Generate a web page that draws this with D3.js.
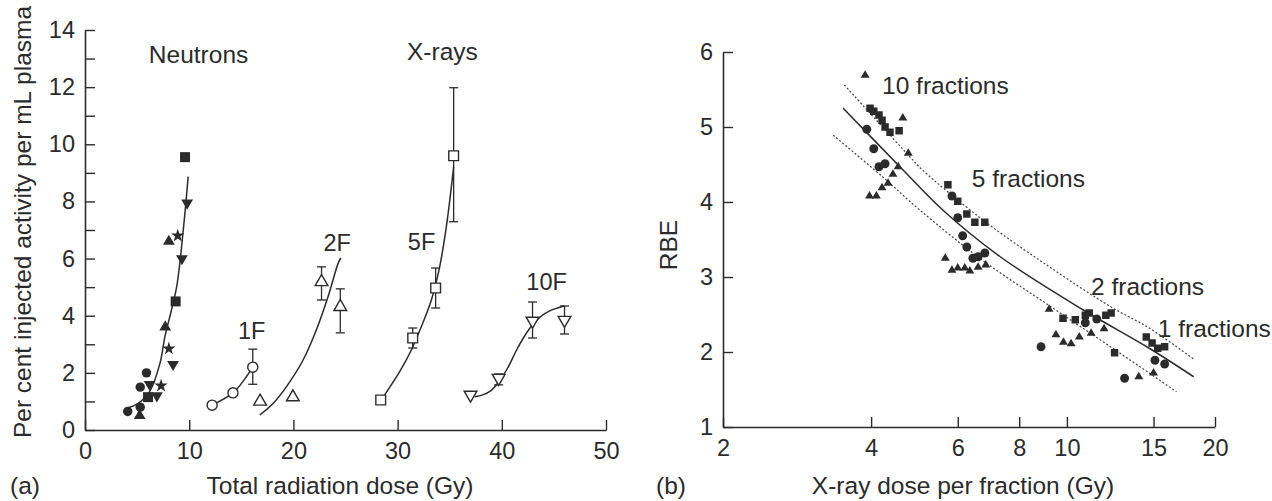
<!DOCTYPE html>
<html>
<head>
<meta charset="utf-8">
<script src="https://cdn.jsdelivr.net/npm/d3@7"></script>
<style>
  html, body { margin: 0; padding: 0; background: #fff; }
  svg text { font-family: "Liberation Sans", Arial, Helvetica, sans-serif; fill: #2b2b2b; }
</style>
</head>
<body>
<svg id="chart" width="1272" height="501"></svg>
<script>
// ---------- Panel (a): injected activity vs total dose ----------
const doseTicksA = [0, 10, 20, 30, 40, 50];
const activityTicks = d3.range(0, 15, 1);

// Neutron irradiation (filled symbols) [dose Gy, % activity]
const neutronSquares  = [[9.6, 9.55], [8.7, 4.5], [6.05, 1.15]];
const neutronDown     = [[9.8, 7.95], [9.3, 6.0], [8.45, 2.3], [6.2, 1.6], [6.9, 1.2]];
const neutronUp       = [[8.05, 6.6], [7.7, 3.6], [5.25, 0.5]];
const neutronStars    = [[8.9, 6.8], [8.05, 2.85], [7.3, 1.55]];
const neutronCircles  = [[5.9, 2.0], [5.3, 1.5], [4.1, 0.65], [5.3, 0.8]];
const neutronFit = [[4.0, 0.76], [5.1, 0.93], [6.2, 1.34], [7.2, 2.34], [7.67, 3.27], [8.3, 4.2],
                    [8.8, 5.02], [9.1, 5.84], [9.43, 7.0], [9.68, 7.94], [9.9, 8.87]];

// X-ray fractionation schedules: [dose, mean, lower, upper]
const xray1F  = [[12.2, 0.87, null, null], [14.2, 1.3, null, null], [16.1, 2.2, 1.6, 2.83]];
const xray2F  = [[16.8, 1.0, null, null], [19.95, 1.15, null, null], [22.7, 5.18, 4.55, 5.71], [24.5, 4.31, 3.4, 4.94]];
const xray5F  = [[28.38, 1.05, null, null], [31.45, 3.22, 2.87, 3.57], [33.65, 4.97, 4.27, 5.67], [35.38, 9.6, 7.29, 11.98]];
const xray10F = [[37.0, 1.23, null, null], [39.7, 1.82, 1.58, 1.96], [42.95, 3.82, 3.22, 4.48], [46.02, 3.85, 3.36, 4.34]];

const fit1F  = [[12.2, 0.87], [14.2, 1.3], [15.2, 1.72], [16.1, 2.2]];
const fit2F  = [[16.78, 0.53], [18.05, 0.93], [19.34, 1.52], [20.93, 2.45], [22.2, 3.5], [23.33, 4.67], [24.3, 5.84], [24.55, 6.02]];
const fit5F  = [[28.76, 1.23], [30.2, 2.04], [31.32, 2.8], [32.28, 3.62], [33.24, 4.55], [34.04, 5.72], [34.68, 7.12], [35.09, 8.29], [35.38, 9.22]];
const fit10F = [[37.39, 1.16], [38.16, 1.23], [38.93, 1.37], [39.7, 1.68], [40.56, 2.17], [41.42, 2.8], [42.19, 3.29],
                [42.95, 3.68], [43.8, 3.99], [44.6, 4.17], [45.35, 4.27], [46.02, 4.34]];

// ---------- Panel (b): RBE vs X-ray dose per fraction ----------
const dosePerFractionTicks = [2, 4, 6, 8, 10, 15, 20];
const rbeTicks = [1, 2, 3, 4, 5, 6];

const rbeSquares = [[3.98, 5.25], [4.05, 5.21], [4.15, 5.16], [4.21, 5.09], [4.27, 5.0], [4.37, 4.93], [4.56, 4.95],
                    [5.73, 4.23], [6.0, 4.01], [6.26, 3.84], [6.5, 3.73], [6.81, 3.73],
                    [9.82, 2.45], [10.4, 2.43], [10.9, 2.49], [11.1, 2.52], [12.0, 2.49], [12.3, 2.52], [12.5, 1.99],
                    [14.5, 2.2], [14.9, 2.12], [15.3, 2.05], [15.8, 2.07]];
const rbeCircles = [[3.92, 4.97], [4.05, 4.71], [4.15, 4.47], [4.27, 4.51],
                    [5.84, 4.08], [6.0, 3.79], [6.14, 3.55], [6.26, 3.4], [6.44, 3.25], [6.6, 3.27], [6.81, 3.32],
                    [8.86, 2.07], [10.9, 2.39], [11.5, 2.44],
                    [13.1, 1.65], [15.1, 1.89], [15.8, 1.84]];
const rbeTriangles = [[3.89, 5.69], [4.64, 5.12], [4.76, 4.65],
                      [4.54, 4.47], [4.43, 4.37], [4.33, 4.25], [4.21, 4.19], [4.1, 4.08], [3.97, 4.08],
                      [5.66, 3.25], [5.84, 3.09], [6.0, 3.12], [6.2, 3.12], [6.35, 3.08], [6.6, 3.13], [6.84, 3.16],
                      [9.2, 2.57], [9.5, 2.23], [9.84, 2.13], [10.2, 2.11], [10.6, 2.2], [11.2, 2.25], [11.9, 2.31],
                      [14.0, 1.67], [15.0, 1.72]];

const rbeFit   = [[3.51, 5.25], [4.64, 4.43], [5.6, 3.89], [7.32, 3.27], [10.8, 2.56], [14.7, 2.05], [18.1, 1.67]];
const rbeUpper = [[3.53, 5.56], [4.8, 4.6], [5.08, 4.43], [6.75, 3.76], [9.24, 3.13], [12.3, 2.6], [14.7, 2.32], [18.06, 1.91]];
const rbeLower = [[3.35, 4.89], [4.23, 4.33], [5.03, 3.89], [6.75, 3.22], [9.2, 2.62], [11.7, 2.16], [14.1, 1.8], [16.7, 1.47]];

const fractionLabels = ["10 fractions", "5 fractions", "2 fractions", "1 fractions"];

// ---------- drawing ----------
const svg = d3.select("#chart");
svg.append("rect").attr("width", 1272).attr("height", 501).attr("fill", "#fff");

const INK = "#2b2b2b";
const FONT = 23.5;
const TITLE = 24.5;
const BOTTOM_Y = 485;

function styleAxis(g) {
  g.selectAll("path.domain").attr("stroke", INK).attr("stroke-width", 1.6);
  g.selectAll(".tick line").attr("stroke", INK).attr("stroke-width", 1.4);
  g.selectAll(".tick text").attr("font-size", FONT).attr("fill", INK)
    .attr("font-family", '"Liberation Sans", Arial, sans-serif');
}

// Panel (a) scales
const xA = d3.scaleLinear().domain([0, 50]).range([85, 606]);
const yA = d3.scaleLinear().domain([0, 14]).range([430, 30]);

const gA = svg.append("g");
gA.append("g").attr("transform", `translate(0,${yA(0)})`)
  .call(d3.axisBottom(xA).tickValues(doseTicksA).tickSizeInner(-10).tickSizeOuter(0).tickPadding(12))
  .call(styleAxis);
gA.append("g").attr("transform", `translate(${xA(0)},0)`)
  .call(d3.axisLeft(yA).tickValues(activityTicks).tickSizeInner(-10).tickSizeOuter(0).tickPadding(10)
    .tickFormat(d => d % 2 === 0 ? d : ""))
  .call(styleAxis);

const lineA = d3.line().x(d => xA(d[0])).y(d => yA(d[1])).curve(d3.curveCatmullRom.alpha(0.5));
[neutronFit, fit1F, fit2F, fit5F, fit10F].forEach(pts => {
  gA.append("path").attr("d", lineA(pts)).attr("fill", "none").attr("stroke", INK).attr("stroke-width", 1.5);
});

// error bars
function errorBars(g, data, x, y) {
  data.filter(d => d[2] !== null).forEach(d => {
    const cx = x(d[0]);
    g.append("line").attr("x1", cx).attr("x2", cx).attr("y1", y(d[2])).attr("y2", y(d[3]))
      .attr("stroke", INK).attr("stroke-width", 1.3);
    [d[2], d[3]].forEach(v => {
      g.append("line").attr("x1", cx - 4.5).attr("x2", cx + 4.5).attr("y1", y(v)).attr("y2", y(v))
        .attr("stroke", INK).attr("stroke-width", 1.3);
    });
  });
}
[xray1F, xray2F, xray5F, xray10F].forEach(s => errorBars(gA, s, xA, yA));

function symbols(g, data, x, y, type, size, opts) {
  const o = Object.assign({ fill: INK, stroke: "none", sw: 0, rotate: 0 }, opts || {});
  g.selectAll(null).data(data).enter().append("path")
    .attr("d", d3.symbol().type(type).size(size)())
    .attr("transform", d => `translate(${x(d[0])},${y(d[1])}) rotate(${o.rotate})`)
    .attr("fill", o.fill).attr("stroke", o.stroke).attr("stroke-width", o.sw);
}

// neutron data (filled)
symbols(gA, neutronCircles, xA, yA, d3.symbolCircle, 70);
symbols(gA, neutronUp, xA, yA, d3.symbolTriangle, 60);
symbols(gA, neutronDown, xA, yA, d3.symbolTriangle, 60, { rotate: 180 });
symbols(gA, neutronStars, xA, yA, d3.symbolStar, 55);
symbols(gA, neutronSquares, xA, yA, d3.symbolSquare, 100);

// X-ray data (open)
const openStyle = { fill: "#fff", stroke: INK, sw: 1.4 };
symbols(gA, xray1F, xA, yA, d3.symbolCircle, 80, openStyle);
symbols(gA, xray2F, xA, yA, d3.symbolTriangle, 70, openStyle);
symbols(gA, xray5F, xA, yA, d3.symbolSquare, 95, openStyle);
symbols(gA, xray10F, xA, yA, d3.symbolTriangle, 70, Object.assign({ rotate: 180 }, openStyle));

function label(g, txt, x, y, anchor, size) {
  g.append("text").attr("x", x).attr("y", y).attr("dy", "0.35em")
    .attr("text-anchor", anchor || "middle").attr("font-size", size || FONT).text(txt);
}
label(gA, "Neutrons", xA(10.9), yA(13.13), "middle", TITLE);
label(gA, "X-rays", xA(34.3), yA(13.24), "middle", TITLE);
label(gA, "1F", xA(16.0), yA(3.47));
label(gA, "2F", xA(24.2), yA(6.55));
label(gA, "5F", xA(32.3), yA(6.58));
label(gA, "10F", xA(44.3), yA(5.18));

gA.append("text").attr("transform", `translate(22,222) rotate(-90)`)
  .attr("dy", "0.35em").attr("text-anchor", "middle").attr("font-size", TITLE)
  .text("Per cent injected activity per mL plasma");
label(gA, "Total radiation dose (Gy)", 340, BOTTOM_Y, "middle", TITLE);
label(gA, "(a)", 25, BOTTOM_Y, "middle", TITLE);

// Panel (b) scales
const xB = d3.scaleLog().domain([2, 20]).range([723, 1215]);
const yB = d3.scaleLinear().domain([1, 6]).range([427, 52]);

const gB = svg.append("g");
gB.append("g").attr("transform", `translate(0,${yB(1)})`)
  .call(d3.axisBottom(xB).tickValues(dosePerFractionTicks).tickFormat(d3.format("d"))
    .tickSizeInner(-10).tickSizeOuter(0).tickPadding(12))
  .call(styleAxis);
gB.append("g").attr("transform", `translate(${xB(2)},0)`)
  .call(d3.axisLeft(yB).tickValues(rbeTicks).tickFormat(d3.format("d"))
    .tickSizeInner(-10).tickSizeOuter(0).tickPadding(10))
  .call(styleAxis);

const lineB = d3.line().x(d => xB(d[0])).y(d => yB(d[1])).curve(d3.curveCatmullRom.alpha(0.5));
gB.append("path").attr("d", lineB(rbeUpper)).attr("fill", "none").attr("stroke", "#444")
  .attr("stroke-width", 1.2).attr("stroke-dasharray", "2,2");
gB.append("path").attr("d", lineB(rbeLower)).attr("fill", "none").attr("stroke", "#444")
  .attr("stroke-width", 1.2).attr("stroke-dasharray", "2,2");
gB.append("path").attr("d", lineB(rbeFit)).attr("fill", "none").attr("stroke", INK).attr("stroke-width", 1.5);

symbols(gB, rbeTriangles, xB, yB, d3.symbolTriangle, 34);
symbols(gB, rbeCircles, xB, yB, d3.symbolCircle, 62);
symbols(gB, rbeSquares, xB, yB, d3.symbolSquare, 56);

const fracPos = [[4.21, 5.55], [6.41, 4.32], [11.2, 2.87], [15.3, 2.32]];
fractionLabels.forEach((t, i) => label(gB, t, xB(fracPos[i][0]), yB(fracPos[i][1]), "start", TITLE));

gB.append("text").attr("transform", `translate(668,245) rotate(-90)`)
  .attr("dy", "0.35em").attr("text-anchor", "middle").attr("font-size", TITLE).text("RBE");
label(gB, "X-ray dose per fraction (Gy)", 963, BOTTOM_Y, "middle", TITLE);
label(gB, "(b)", 671, BOTTOM_Y, "middle", TITLE);
</script>
</body>
</html>
